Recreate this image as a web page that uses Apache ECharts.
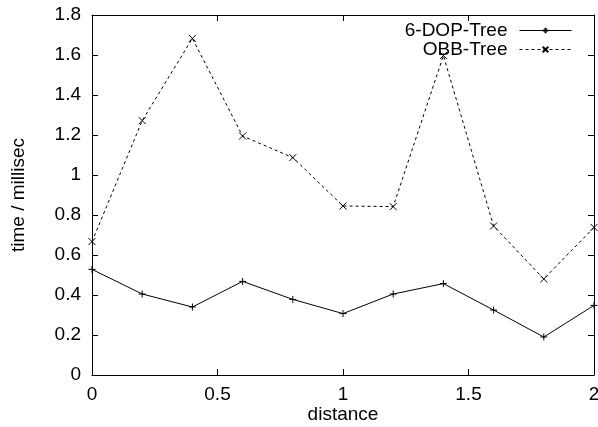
<!DOCTYPE html>
<html>
<head>
<meta charset="utf-8">
<script src="https://cdn.jsdelivr.net/npm/echarts@6/dist/echarts.min.js"></script>
<style>
html, body { margin: 0; padding: 0; background: #fff; }
#main { width: 598px; height: 427px; }
</style>
</head>
<body>
<div id="main"></div>
<script>
// distance values (x axis)
var distance = [0, 0.2, 0.4, 0.6, 0.8, 1.0, 1.2, 1.4, 1.6, 1.8, 2.0];
// time / millisec
var dopTree = [0.528, 0.405, 0.34, 0.468, 0.378, 0.307, 0.405, 0.457, 0.325, 0.19, 0.348];
var obbTree = [0.667, 1.272, 1.683, 1.195, 1.087, 0.845, 0.842, 1.597, 0.745, 0.48, 0.738];

var font = 'Liberation Sans, Arial, Helvetica, sans-serif';
var fontSize = 19;
var plusSymbol = 'path://M0,4L8,4M4,0L4,8';
var crossSymbol = 'path://M0,0L8,8M8,0L0,8';

function pairs(ys) {
    var out = [];
    for (var i = 0; i < distance.length; i++) {
        out.push([distance[i], ys[i]]);
    }
    return out;
}

var axisLine = { show: true, onZero: false, lineStyle: { color: '#000', width: 1 } };
var axisTick = { show: true, inside: true, length: 6, lineStyle: { color: '#000', width: 1 } };

var option = {
    animation: false,
    grid: {
        left: 92,
        right: 4,
        top: 15,
        bottom: 52,
        containLabel: false,
        outerBoundsMode: 'none'
    },
    legend: {
        orient: 'vertical',
        align: 'right',
        right: 26,
        top: 21,
        padding: 0,
        itemWidth: 52,
        itemHeight: 7,
        itemGap: 0,
        lineStyle: { width: 1 },
        textStyle: { fontFamily: font, fontSize: fontSize, lineHeight: 18, color: '#000', padding: [0, 7, 0, 0] },
        data: ['6-DOP-Tree', 'OBB-Tree']
    },
    xAxis: [
        {
            type: 'value',
            min: 0,
            max: 2,
            interval: 0.5,
            name: 'distance',
            nameLocation: 'middle',
            nameGap: 30,
            nameMoveOverlap: false,
            nameTextStyle: { fontFamily: font, fontSize: fontSize, color: '#000' },
            axisLine: axisLine,
            axisTick: axisTick,
            axisLabel: { fontFamily: font, fontSize: fontSize, color: '#000', margin: 10 },
            splitLine: { show: false }
        },
        {
            type: 'value',
            position: 'top',
            min: 0,
            max: 2,
            interval: 0.5,
            axisLine: axisLine,
            axisTick: axisTick,
            axisLabel: { show: false },
            splitLine: { show: false }
        }
    ],
    yAxis: [
        {
            type: 'value',
            min: 0,
            max: 1.8,
            interval: 0.2,
            name: 'time / millisec',
            nameLocation: 'middle',
            nameGap: 64,
            nameTextStyle: { fontFamily: font, fontSize: fontSize, color: '#000' },
            axisLine: axisLine,
            axisTick: axisTick,
            axisLabel: { fontFamily: font, fontSize: fontSize, color: '#000', margin: 11 },
            splitLine: { show: false }
        },
        {
            type: 'value',
            position: 'right',
            min: 0,
            max: 1.8,
            interval: 0.2,
            axisLine: axisLine,
            axisTick: axisTick,
            axisLabel: { show: false },
            splitLine: { show: false }
        }
    ],
    series: [
        {
            name: '6-DOP-Tree',
            type: 'line',
            data: pairs(dopTree),
            symbol: plusSymbol,
            symbolSize: 7,
            showAllSymbol: true,
            lineStyle: { color: '#000', width: 1 },
            itemStyle: { color: '#000', borderColor: '#000', borderWidth: 1 }
        },
        {
            name: 'OBB-Tree',
            type: 'line',
            data: pairs(obbTree),
            symbol: crossSymbol,
            symbolSize: 7,
            showAllSymbol: true,
            lineStyle: { color: '#000', width: 1, type: [3, 3] },
            itemStyle: { color: '#000', borderColor: '#000', borderWidth: 1 }
        }
    ]
};

var myChart = echarts.init(document.getElementById('main'));
myChart.setOption(option);
</script>
</body>
</html>
